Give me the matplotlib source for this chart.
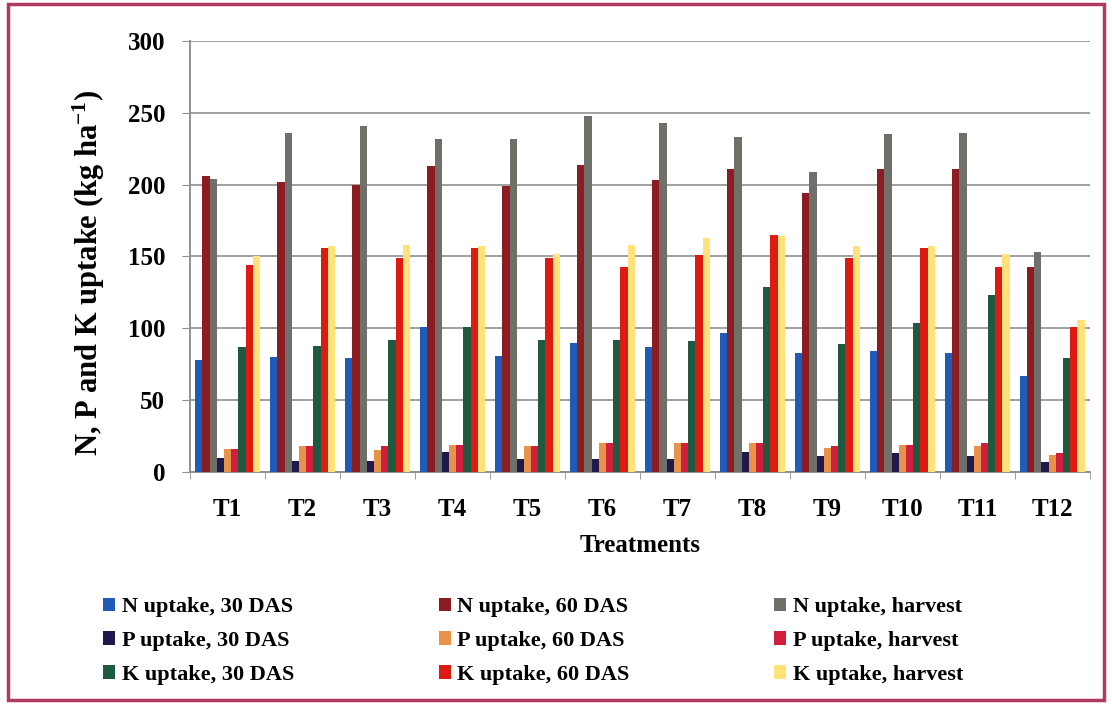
import numpy as np
import matplotlib
matplotlib.use("Agg")
import matplotlib.pyplot as plt
from matplotlib.patches import Rectangle

plt.rcParams['font.family'] = ['Liberation Serif', 'DejaVu Serif']
plt.rcParams['font.weight'] = 'bold'
plt.rcParams['mathtext.default'] = 'regular'

treatments = ["T1", "T2", "T3", "T4", "T5", "T6", "T7", "T8", "T9", "T10", "T11", "T12"]

n_30 = [78, 80, 79, 101, 81, 90, 87, 97, 83, 84, 83, 67]
n_60 = [206, 202, 200, 213, 199, 214, 203, 211, 194, 211, 211, 143]
n_harvest = [204, 236, 241, 232, 232, 248, 243, 233, 209, 235, 236, 153]
p_30 = [10, 8, 8, 14, 9, 9, 9, 14, 11, 13, 11, 7]
p_60 = [16, 18, 15, 19, 18, 20, 20, 20, 17, 19, 18, 12]
p_harvest = [16, 18, 18, 19, 18, 20, 20, 20, 18, 19, 20, 13]
k_30 = [87, 88, 92, 101, 92, 92, 91, 129, 89, 104, 123, 79]
k_60 = [144, 156, 149, 156, 149, 143, 151, 165, 149, 156, 143, 101]
k_harvest = [150, 157, 158, 157, 152, 158, 163, 164, 157, 157, 152, 106]

series = [
    ("N uptake, 30 DAS", n_30, "#1f5bb8"),
    ("N uptake, 60 DAS", n_60, "#8a1c22"),
    ("N uptake, harvest", n_harvest, "#6f706a"),
    ("P uptake, 30 DAS", p_30, "#201a4c"),
    ("P uptake, 60 DAS", p_60, "#e8924a"),
    ("P uptake, harvest", p_harvest, "#cf1f3c"),
    ("K uptake, 30 DAS", k_30, "#1d5a40"),
    ("K uptake, 60 DAS", k_60, "#de1a12"),
    ("K uptake, harvest", k_harvest, "#ffe27a"),
]

fig = plt.figure(figsize=(11.12, 7.07), dpi=100)
ax = fig.add_axes([0.171, 0.3324, 0.809, 0.6096])

x = np.arange(len(treatments))
width = 0.096
handles = []
for i, (label, vals, color) in enumerate(series):
    offs = (i - 4) * width
    b = ax.bar(x + offs, vals, width, color=color, label=label, zorder=3)
    handles.append(b)

ax.set_xlim(-0.5, len(treatments) - 0.5)
ax.set_ylim(0, 300)
ax.set_yticks(range(0, 301, 50))
ax.yaxis.grid(True, color="#a0a0a0", linewidth=1.4, zorder=0)
ax.set_xticks(x)
ax.set_xticklabels(treatments, fontsize=18, fontweight='bold')
ax.set_xticks(np.arange(-0.5, len(treatments)), minor=True)
ax.tick_params(axis='x', which='major', length=0, pad=19)
ax.tick_params(axis='x', which='minor', length=5, color="#909090")
ax.tick_params(axis='y', length=6, color="#909090", labelsize=18, pad=12)
for lbl in ax.get_yticklabels():
    lbl.set_fontweight('bold')

for side in ("top", "right"):
    ax.spines[side].set_visible(False)
for side in ("left", "bottom"):
    ax.spines[side].set_color("#909090")
    ax.spines[side].set_linewidth(1.4)

ax.set_xlabel("Treatments", fontsize=18, fontweight='bold')
ax.xaxis.set_label_coords(0.5, -0.145)
ax.set_ylabel("N, P and K uptake (kg ha$^{-1}$)", fontsize=22, fontweight='bold')
ax.yaxis.set_label_coords(-0.092, 0.462)

# legend columns: N / P / K down each column, 30 DAS / 60 DAS / harvest across
order = [0, 3, 6, 1, 4, 7, 2, 5, 8]
leg = fig.legend([handles[k] for k in order], [series[k][0] for k in order],
                 ncol=3, loc="upper left", bbox_to_anchor=(0.0845, 0.168),
                 borderaxespad=0, frameon=False, handlelength=0.55, handleheight=0.55,
                 handletextpad=0.3, columnspacing=6.5, labelspacing=0.62,
                 prop={'weight': 'bold', 'size': 16})

fig.patches.append(Rectangle((0.0072, 0.0099), 0.9856, 0.9844, transform=fig.transFigure,
                             fill=False, edgecolor="#b03a5e", linewidth=2.5))

fig.savefig("out.png", dpi=100)
